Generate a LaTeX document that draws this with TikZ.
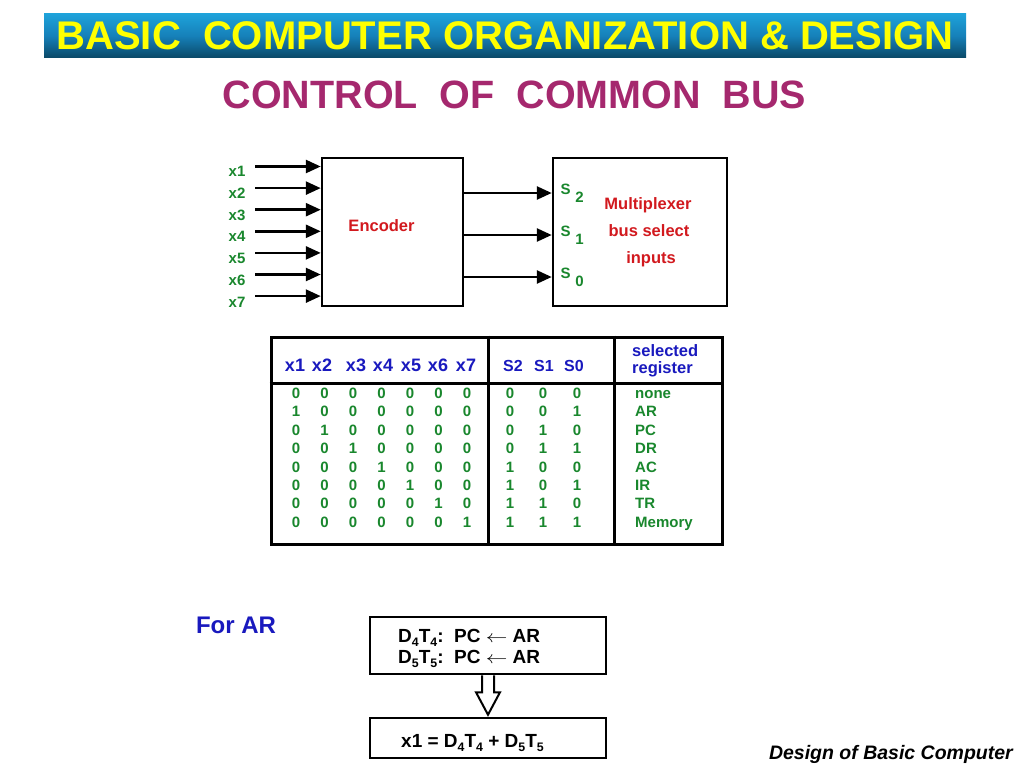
\documentclass[tikz,border=0pt]{standalone}
\usepackage{fontspec}
\setmainfont{Liberation Sans}
\usepackage{graphicx}
\usetikzlibrary{arrows.meta,calc}
\definecolor{tgreen}{RGB}{25,135,45}
\definecolor{tred}{RGB}{210,25,30}
\definecolor{tblue}{RGB}{25,25,190}
\definecolor{tmag}{RGB}{165,40,110}
\definecolor{tyel}{RGB}{255,255,0}
\definecolor{bartop}{RGB}{30,162,218}
\definecolor{barmid}{RGB}{22,128,185}
\definecolor{barbot}{RGB}{10,72,102}
\newcommand\sbs[1]{\raisebox{-0.25em}{\scalebox{0.65}{#1}}}
\newcommand\larr{\scalebox{1.25}[1]{$\leftarrow$}}
\begin{document}
\begin{tikzpicture}[x=1pt,y=-1pt,
  fs/.style={font=\bfseries\fontsize{#1}{#1}\selectfont},
  lbl/.style={inner sep=0pt, anchor=base, fs=15, text=tgreen},
  slbl/.style={inner sep=0pt, anchor=base, fs=15, text=tgreen},
  redlbl/.style={inner sep=0pt, anchor=base, fs=16.5, text=tred},
  hdr/.style={inner sep=0pt, anchor=base, fs=18, text=tblue},
  shdr/.style={inner sep=0pt, anchor=base, fs=16, text=tblue},
  rhdr/.style={inner sep=0pt, anchor=base west, fs=16.5, text=tblue},
  dat/.style={inner sep=0pt, anchor=base, fs=15, text=tgreen},
  bt/.style={inner sep=0pt, anchor=base west, fs=19, text=black},
  box/.style={draw=black, line width=2.5pt, fill=white, inner sep=0pt},
  arr/.style={line width=2.6pt, -{Triangle[length=15pt,width=13pt]}},
  tline/.style={line width=3pt}]
\useasboundingbox (0,0) rectangle (1024,768);
\fill[white] (0,0) rectangle (1024,768);
% title bar
\node[inner sep=0pt, minimum width=922pt, minimum height=44pt,
  top color=bartop, bottom color=barbot, middle color=barmid,
  text=tyel, fs=40] (title) at (505,36) {BASIC\ \ COMPUTER ORGANIZATION \& DESIGN};
\node[inner sep=0pt, anchor=base, text=tmag, fs=39.5] (sub) at (514.5,108)
  {CONTROL\ \ OF\ \ COMMON\ \ BUS};
% encoder and multiplexer
\node[box, minimum width=141pt, minimum height=148pt] (enc) at (392.5,232) {};
\node[box, minimum width=174pt, minimum height=148pt] (mux) at (640,232) {};
\node[redlbl] (enclbl) at (381.5,231) {Encoder};
\node[redlbl] (mux1) at (648,209) {Multiplexer};
\node[redlbl] (mux2) at (649,236) {bus select};
\node[redlbl] (mux3) at (651,263) {inputs};
\foreach \i in {1,...,7} {
  \coordinate (in\i) at (255,{166.5+21.6*(\i-1)});
  \draw[arr] (in\i) -- (enc.west |- in\i);
  \node[lbl] (xl\i) at (237,{176.4+21.8*(\i-1)}) {x\i};
}
\foreach \y/\s in {193/2,235/1,277/0} {
  \draw[arr] (enc.east |- 0,\y) -- (mux.west |- 0,\y);
  \node[slbl] (sl\s) at (565.5,{\y+1}) {S};
  \node[slbl] (ss\s) at (579.5,{\y+9.5}) {\s};
}
% table
\node[draw=black, tline, minimum width=451pt, minimum height=207pt, inner sep=0pt] (tbl) at (496.5,440.5) {};
\draw[tline] (tbl.west |- 0,383) -- (tbl.east |- 0,383);
\draw[tline] (tbl.north -| 488,0) -- (tbl.south -| 488,0);
\draw[tline] (tbl.north -| 614,0) -- (tbl.south -| 614,0);
\foreach \i/\x in {1/295,2/322,3/356,4/383,5/411,6/438,7/466}
  \node[hdr] (hx\i) at (\x,371.5) {x\i};
\foreach \s/\x in {2/513,1/544,0/574}
  \node[shdr] (hs\s) at (\x,371) {S\s};
\node[rhdr] (hsel) at (632,356) {selected};
\node[rhdr] (hreg) at (632,373) {register};
\foreach \r/\nm in {0/none,1/AR,2/PC,3/DR,4/AC,5/IR,6/TR,7/Memory} {
  \pgfmathsetmacro\yb{398.4+18.4*\r}
  \foreach \c/\x in {1/296,2/324.5,3/353,4/381.5,5/410,6/438.5,7/467} {
    \pgfmathtruncatemacro\v{(\c==\r) ? 1 : 0}
    \node[dat] (d\r-\c) at (\x,\yb) {\v};
  }
  \pgfmathtruncatemacro\sa{floor(\r/4)}
  \pgfmathtruncatemacro\sb{mod(floor(\r/2),2)}
  \pgfmathtruncatemacro\sc{mod(\r,2)}
  \node[dat] (sa\r) at (510,\yb) {\sa};
  \node[dat] (sb\r) at (543,\yb) {\sb};
  \node[dat] (sc\r) at (577,\yb) {\sc};
  \node[dat, anchor=base west] (reg\r) at (635,\yb) {\nm};
}
% bottom
\node[inner sep=0pt, anchor=base, fs=24, text=tblue] (forar) at (236,633.6) {For AR};
\node[box, minimum width=236pt, minimum height=57pt] (b1) at (488,645.5) {};
\node[bt] (b1a) at (398,642) {D\sbs{4}T\sbs{4}:\ \ PC \larr\ AR};
\node[bt] (b1b) at (398,663) {D\sbs{5}T\sbs{5}:\ \ PC \larr\ AR};
\node[box, minimum width=236pt, minimum height=40pt] (b2) at (488,738) {};
\node[bt] (b2a) at (401,747) {x1 = D\sbs{4}T\sbs{4} + D\sbs{5}T\sbs{5}};
\draw[line width=2pt, fill=white, line join=miter]
  ($(b1.south)+(-6,0)$) -- ++(0,17) -- ++(-6,0) -- ($(b2.north)+(0,-2)$)
  -- ($(b1.south)+(12,17)$) -- ++(-6,0) -- ($(b1.south)+(6,0)$);
\node[inner sep=0pt, anchor=base east, font=\bfseries\itshape\fontsize{19.5}{20}\selectfont] (foot) at (1013,759) {Design of Basic Computer};
\end{tikzpicture}
\end{document}
